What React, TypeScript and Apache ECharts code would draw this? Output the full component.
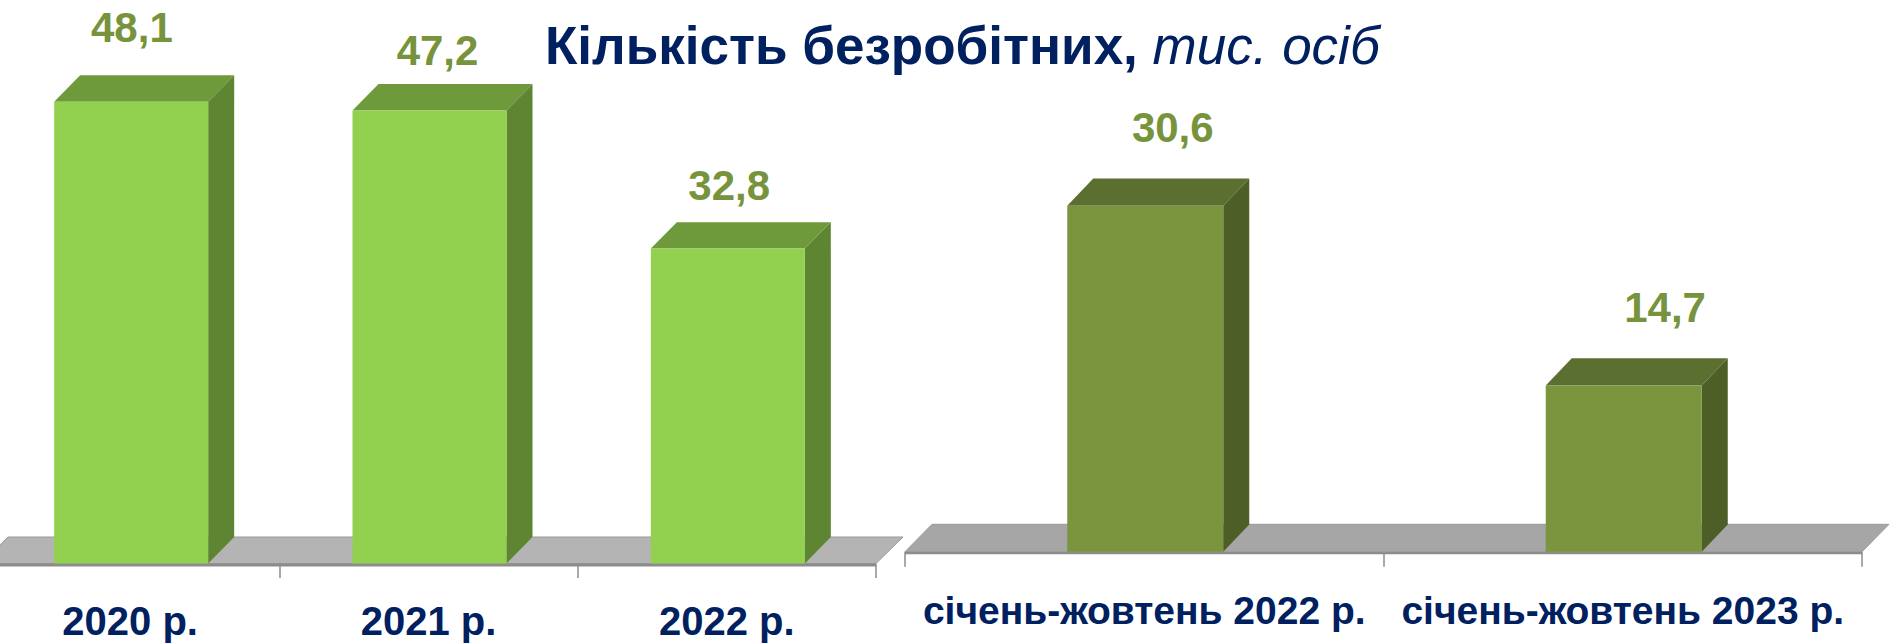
import React, { useEffect, useRef } from 'react';
import * as echarts from 'echarts';

// ---- data ----
const leftCategories = ['2020 р.', '2021 р.', '2022 р.'];
const leftValues = [48.1, 47.2, 32.8];
const rightCategories = ['січень-жовтень 2022 р.', 'січень-жовтень 2023 р.'];
const rightValues = [30.6, 14.7];
const titleBold = 'Кількість безробітних,';
const titleItalic = ' тис. осіб';

// ---- styling ----
const FONT = '"Liberation Sans", Arial, sans-serif';
const NAVY = '#002060';
const LABEL_GREEN = '#77933c';
const VALUE_FS = 42;
const CENTRAL = 0.3465; // central-baseline offset (em) for Liberation Sans

const leftLabelDx = [0.7, 8, 1.4];
const leftLabelRise = [33.6, 19.3, 22];
const rightLabelDx = [27.5, 41.3];
const rightLabelRise = [36, 35.7];

type BarStyle = {
  front: string; top: string; side: string;
  width: number; shift: number; dx: number; dy: number;
  labelDx: number[]; labelRise: number[];
};

const leftBarStyle: BarStyle = {
  front: '#92d050', top: '#6f9a3b', side: '#5e8632',
  width: 154, shift: 1, dx: 26, dy: 26.4,
  labelDx: leftLabelDx, labelRise: leftLabelRise,
};
const rightBarStyle: BarStyle = {
  front: '#7a953d', top: '#5b6f30', side: '#4d5e27',
  width: 156, shift: 1, dx: 26, dy: 27.3,
  labelDx: rightLabelDx, labelRise: rightLabelRise,
};

function fmt(v: number) {
  return String(v).replace('.', ',');
}

function makeBarRenderer(s: BarStyle) {
  return (params: any, api: any) => {
    const i = params.dataIndex;
    const cat = api.value(0);
    const v = api.value(1);
    const top = api.coord([cat, v]);
    const base = api.coord([cat, 0]);
    const cx = top[0] + s.shift;
    const x0 = cx - s.width / 2;
    const x1 = cx + s.width / 2;
    const yT = top[1];
    const yB = base[1];
    const baseline = yT - s.dy - s.labelRise[i];
    return {
      type: 'group',
      children: [
        {
          type: 'polygon',
          shape: { points: [[x0, yT], [x1, yT], [x1 + s.dx, yT - s.dy], [x0 + s.dx, yT - s.dy]] },
          style: { fill: s.top },
        },
        {
          type: 'polygon',
          shape: { points: [[x1, yT], [x1 + s.dx, yT - s.dy], [x1 + s.dx, yB - s.dy], [x1, yB]] },
          style: { fill: s.side },
        },
        {
          type: 'rect',
          shape: { x: x0, y: yT, width: s.width, height: yB - yT },
          style: { fill: s.front },
        },
        {
          type: 'text',
          x: cx + s.labelDx[i],
          y: baseline - CENTRAL * VALUE_FS,
          style: {
            text: fmt(v),
            fill: LABEL_GREEN,
            fontSize: VALUE_FS,
            fontWeight: 'bold',
            fontFamily: FONT,
            align: 'center',
            verticalAlign: 'middle',
            textAlign: 'center',
            textVerticalAlign: 'middle',
          },
        },
      ],
    };
  };
}

function makeFloorRenderer(fill: string, depthX: number, depthY: number, edge: number) {
  return (params: any, api: any) => {
    const cs = params.coordSys;
    const y0 = api.coord([0, 0])[1];
    const xL = cs.x;
    const xR = cs.x + cs.width;
    return {
      type: 'group',
      children: [
        {
          type: 'polygon',
          shape: { points: [[xL, y0], [xR, y0], [xR + depthX, y0 - depthY], [xL + depthX, y0 - depthY]] },
          style: { fill, stroke: '#999999', lineWidth: 1 },
        },
        {
          type: 'rect',
          shape: { x: xL, y: y0, width: xR - xL, height: edge },
          style: { fill: '#8c8c8c' },
        },
      ],
    };
  };
}

function axisFor(gridIndex: number, data: string[], margin: number, tickLen: number, fs: number) {
  return {
    type: 'category',
    gridIndex,
    data,
    boundaryGap: true,
    axisLine: { show: false },
    axisTick: { show: true, length: tickLen, lineStyle: { color: '#8c8c8c', width: 1.5 } },
    axisLabel: {
      interval: 0,
      margin,
      fontSize: fs,
      fontWeight: 'bold',
      fontFamily: FONT,
      color: NAVY,
    },
    splitLine: { show: false },
  };
}

export default function App() {
  const ref = useRef<HTMLDivElement>(null);

  useEffect(() => {
    document.body.style.margin = '0';
    if (!ref.current) return;
    const chart = echarts.init(ref.current, undefined, { renderer: 'svg' });
    chart.setOption({
      animation: false,
      backgroundColor: '#ffffff',
      title: {
        text: `{b|${titleBold}}{i|${titleItalic}}`,
        left: 545,
        top: 19,
        padding: 0,
        textStyle: {
          rich: {
            b: { fontFamily: FONT, fontWeight: 'bold', fontSize: 53, color: NAVY },
            i: { fontFamily: FONT, fontStyle: 'italic', fontWeight: 'normal', fontSize: 53, color: NAVY },
          },
        },
      },
      grid: [
        { left: -19, width: 895, top: 83.5, height: 480, outerBoundsMode: 'none', containLabel: false },
        { left: 905, width: 957, top: 99.4, height: 452.4, outerBoundsMode: 'none', containLabel: false },
      ],
      xAxis: [
        axisFor(0, leftCategories, 37.5, 14.5, 40),
        axisFor(1, rightCategories, 39, 15, 39),
      ],
      yAxis: [
        { type: 'value', gridIndex: 0, min: 0, max: 50, show: false },
        { type: 'value', gridIndex: 1, min: 0, max: 40, show: false },
      ],
      series: [
        {
          type: 'custom',
          xAxisIndex: 0,
          yAxisIndex: 0,
          z: 1,
          renderItem: makeFloorRenderer('#b4b4b4', 27, 26.5, 3),
          data: [[0, 0]],
          silent: true,
        },
        {
          type: 'custom',
          xAxisIndex: 1,
          yAxisIndex: 1,
          z: 1,
          renderItem: makeFloorRenderer('#a6a6a6', 27, 27.5, 2.5),
          data: [[0, 0]],
          silent: true,
        },
        {
          type: 'custom',
          xAxisIndex: 0,
          yAxisIndex: 0,
          z: 2,
          renderItem: makeBarRenderer(leftBarStyle),
          data: leftValues.map((v, i) => [i, v]),
        },
        {
          type: 'custom',
          xAxisIndex: 1,
          yAxisIndex: 1,
          z: 2,
          renderItem: makeBarRenderer(rightBarStyle),
          data: rightValues.map((v, i) => [i, v]),
        },
      ],
    });
    return () => chart.dispose();
  }, []);

  return <div ref={ref} style={{ width: 1890, height: 644 }} />;
}
